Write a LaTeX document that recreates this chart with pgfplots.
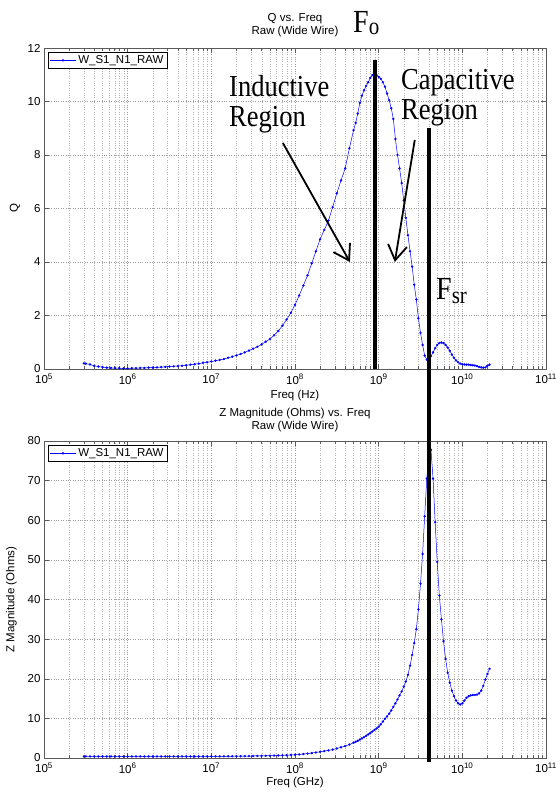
\documentclass[border=0pt]{standalone}
\usepackage{pgfplots}
\usepackage{pgfplotstable}
\pgfplotsset{compat=1.18}
\usepackage{fontspec}
\setmainfont{Liberation Sans}
\newfontfamily\timesfont{Liberation Serif}
\usetikzlibrary{arrows.meta}
\definecolor{mblue}{RGB}{0,0,255}
\definecolor{axgray}{RGB}{90,90,90}

\pgfplotstableread{
f Q Z
3.000e5 0.21 0.40
3.162e5 0.20 0.40
3.548e5 0.17 0.40
3.981e5 0.12 0.40
4.467e5 0.09 0.40
5.012e5 0.07 0.40
5.623e5 0.05 0.40
6.310e5 0.04 0.40
7.079e5 0.03 0.40
7.943e5 0.03 0.40
8.913e5 0.02 0.40
1.000e6 0.02 0.40
1.122e6 0.03 0.40
1.259e6 0.03 0.40
1.413e6 0.04 0.40
1.585e6 0.04 0.40
1.778e6 0.05 0.40
1.995e6 0.05 0.40
2.239e6 0.06 0.40
2.512e6 0.07 0.40
2.818e6 0.08 0.40
3.162e6 0.09 0.40
3.548e6 0.10 0.40
3.981e6 0.11 0.40
4.467e6 0.12 0.40
5.012e6 0.14 0.40
5.623e6 0.16 0.40
6.310e6 0.18 0.40
7.079e6 0.20 0.40
7.943e6 0.23 0.40
8.913e6 0.25 0.41
1.000e7 0.28 0.41
1.122e7 0.31 0.42
1.259e7 0.34 0.42
1.413e7 0.37 0.43
1.585e7 0.42 0.43
1.778e7 0.46 0.44
1.995e7 0.51 0.45
2.239e7 0.56 0.46
2.512e7 0.62 0.47
2.818e7 0.69 0.48
3.162e7 0.76 0.50
3.548e7 0.83 0.52
3.981e7 0.92 0.54
4.467e7 1.02 0.56
5.012e7 1.12 0.58
5.623e7 1.26 0.61
6.310e7 1.42 0.64
7.079e7 1.62 0.68
7.943e7 1.85 0.72
8.913e7 2.10 0.77
1.000e8 2.40 0.82
1.122e8 2.75 0.90
1.259e8 3.12 1.00
1.413e8 3.50 1.12
1.585e8 3.95 1.25
1.778e8 4.40 1.40
1.995e8 4.85 1.56
2.239e8 5.20 1.74
2.512e8 5.55 1.92
2.818e8 6.05 2.12
3.162e8 6.57 2.40
3.548e8 7.05 2.70
3.981e8 7.50 3.00
4.467e8 8.25 3.40
5.012e8 8.93 3.85
5.309e8 9.20 4.10
5.623e8 9.55 4.35
5.957e8 9.95 4.65
6.310e8 10.22 4.95
6.683e8 10.42 5.25
7.079e8 10.58 5.60
7.499e8 10.72 5.95
7.943e8 10.88 6.30
8.414e8 10.99 6.70
8.913e8 11.05 7.10
9.441e8 10.98 7.45
1.000e9 10.92 7.90
1.059e9 10.85 8.50
1.122e9 10.72 9.20
1.189e9 10.55 9.90
1.259e9 10.30 10.50
1.334e9 10.05 11.20
1.413e9 9.75 12.00
1.496e9 9.35 12.90
1.585e9 8.60 13.80
1.679e9 8.00 14.80
1.778e9 7.50 15.80
1.884e9 6.95 16.80
1.995e9 6.30 18.00
2.113e9 5.65 19.30
2.239e9 5.00 21.00
2.371e9 4.40 23.30
2.512e9 3.83 26.00
2.661e9 3.15 29.00
2.818e9 2.60 32.50
2.985e9 1.90 37.50
3.162e9 1.35 44.00
3.350e9 0.90 51.50
3.548e9 0.50 61.00
3.758e9 0.35 70.50
3.981e9 0.38 76.50
4.217e9 0.48 77.80
4.467e9 0.62 70.50
4.732e9 0.78 59.50
5.012e9 0.90 49.50
5.309e9 0.97 41.00
5.623e9 0.99 35.00
5.957e9 0.97 29.50
6.310e9 0.90 25.00
6.683e9 0.80 21.50
7.079e9 0.68 19.00
7.499e9 0.54 17.00
7.943e9 0.42 15.60
8.414e9 0.32 14.50
8.913e9 0.25 13.80
9.441e9 0.20 13.50
1.000e10 0.18 13.80
1.059e10 0.17 14.50
1.122e10 0.16 15.20
1.189e10 0.16 15.60
1.259e10 0.15 15.80
1.334e10 0.14 15.90
1.413e10 0.13 15.90
1.496e10 0.11 16.00
1.585e10 0.08 16.30
1.679e10 0.06 17.00
1.778e10 0.05 18.20
1.884e10 0.06 19.80
1.995e10 0.12 21.20
2.113e10 0.16 22.50
}\datatable

\begin{document}
\begin{tikzpicture}
\useasboundingbox (0pt,0pt) rectangle (557pt,793pt);

% ---------- Top axis: Q ----------
\begin{axis}[
  xmode=log, scale only axis, width=502pt, height=321pt,
  at={(44pt,424pt)}, anchor=south west,
  xmin=1e5, xmax=1e11,
  xtick={1e5,1e6,1e7,1e8,1e9,1e10,1e11},
  xticklabels={10\textsuperscript{5},10\textsuperscript{6},10\textsuperscript{7},10\textsuperscript{8},10\textsuperscript{9},10\textsuperscript{10},10\textsuperscript{11}},
  minor xtick={2e5,3e5,4e5,5e5,6e5,7e5,8e5,9e5,2e6,3e6,4e6,5e6,6e6,7e6,8e6,9e6,2e7,3e7,4e7,5e7,6e7,7e7,8e7,9e7,2e8,3e8,4e8,5e8,6e8,7e8,8e8,9e8,2e9,3e9,4e9,5e9,6e9,7e9,8e9,9e9,2e10,3e10,4e10,5e10,6e10,7e10,8e10,9e10},
  xmajorgrids, xminorgrids, ymajorgrids,
  major grid style={dotted, gray!80, line width=0.45pt},
  minor grid style={dotted, gray!60, line width=0.4pt},
  axis line style={axgray, line width=0.5pt},
  tick style={axgray, line width=0.5pt},
  tick align=inside,
  major tick length=5pt, minor tick length=3pt,
  ticklabel style={font=\fontsize{11.5}{13}\selectfont},
  xticklabel style={yshift=-1.5pt},
  yticklabel style={/pgf/number format/assume math mode=true},
  label style={font=\fontsize{11.5}{13}\selectfont},
  title style={font=\fontsize{11.5}{13}\selectfont, align=center, at={(0.5,1)}, anchor=south, yshift=1.5pt},
  legend style={at={(0.008,0.988)}, anchor=north west, draw=black, line width=0.5pt,
    font=\fontsize{11.5}{13}\selectfont, inner sep=1.5pt},
  legend cell align=left,
  legend image code/.code={\draw[mark repeat=2,mark phase=2] plot coordinates {(0pt,0pt) (13pt,0pt) (26pt,0pt)};},
  ymin=0, ymax=12, ytick={0,2,4,6,8,10,12},
  title={Q vs. Freq\\Raw (Wide Wire)},
  xlabel={Freq (Hz)},
  xlabel style={at={(0.5,-0.083)}, anchor=center},
  ylabel={Q},
  ylabel style={at={(-0.058,0.5)}, anchor=center},
]
\addplot[color=mblue, line width=0.5pt, mark=*, mark size=1.1pt, mark options={fill=mblue, draw=mblue, line width=0.2pt}] table[x=f, y=Q] {\datatable};
\addlegendentry{W\_S1\_N1\_RAW}
\coordinate (FoTop) at (axis cs:9.0e8,11.55);
\coordinate (FoBot) at (axis cs:9.0e8,0);
\coordinate (FsrTop) at (axis cs:3.98e9,9.0);
\coordinate (A1s) at (axis cs:7.16e7,8.45);
\coordinate (A1e) at (axis cs:4.53e8,4.0);
\coordinate (A2s) at (axis cs:2.70e9,8.56);
\coordinate (A2e) at (axis cs:1.56e9,4.0);
\end{axis}

% ---------- Bottom axis: Z ----------
\begin{axis}[
  xmode=log, scale only axis, width=502pt, height=317pt,
  at={(44pt,35pt)}, anchor=south west,
  xmin=1e5, xmax=1e11,
  xtick={1e5,1e6,1e7,1e8,1e9,1e10,1e11},
  xticklabels={10\textsuperscript{5},10\textsuperscript{6},10\textsuperscript{7},10\textsuperscript{8},10\textsuperscript{9},10\textsuperscript{10},10\textsuperscript{11}},
  minor xtick={2e5,3e5,4e5,5e5,6e5,7e5,8e5,9e5,2e6,3e6,4e6,5e6,6e6,7e6,8e6,9e6,2e7,3e7,4e7,5e7,6e7,7e7,8e7,9e7,2e8,3e8,4e8,5e8,6e8,7e8,8e8,9e8,2e9,3e9,4e9,5e9,6e9,7e9,8e9,9e9,2e10,3e10,4e10,5e10,6e10,7e10,8e10,9e10},
  xmajorgrids, xminorgrids, ymajorgrids,
  major grid style={dotted, gray!80, line width=0.45pt},
  minor grid style={dotted, gray!60, line width=0.4pt},
  axis line style={axgray, line width=0.5pt},
  tick style={axgray, line width=0.5pt},
  tick align=inside,
  major tick length=5pt, minor tick length=3pt,
  ticklabel style={font=\fontsize{11.5}{13}\selectfont},
  xticklabel style={yshift=-1.5pt},
  yticklabel style={/pgf/number format/assume math mode=true},
  label style={font=\fontsize{11.5}{13}\selectfont},
  title style={font=\fontsize{11.5}{13}\selectfont, align=center, at={(0.5,1)}, anchor=south, yshift=0pt},
  legend style={at={(0.008,0.988)}, anchor=north west, draw=black, line width=0.5pt,
    font=\fontsize{11.5}{13}\selectfont, inner sep=1.5pt},
  legend cell align=left,
  legend image code/.code={\draw[mark repeat=2,mark phase=2] plot coordinates {(0pt,0pt) (13pt,0pt) (26pt,0pt)};},
  ymin=0, ymax=80, ytick={0,10,20,30,40,50,60,70,80},
  title={Z Magnitude (Ohms) vs. Freq\\Raw (Wide Wire)},
  xlabel={Freq (GHz)},
  xlabel style={at={(0.5,-0.077)}, anchor=center},
  ylabel={Z Magnitude (Ohms)},
  ylabel style={at={(-0.065,0.5)}, anchor=center},
]
\addplot[color=mblue, line width=0.5pt, mark=*, mark size=1.1pt, mark options={fill=mblue, draw=mblue, line width=0.2pt}] table[x=f, y=Z] {\datatable};
\addlegendentry{W\_S1\_N1\_RAW}
\coordinate (FsrBot) at (axis cs:3.98e9,-1.0);
\end{axis}

% ---------- Annotations ----------
\draw[black, line width=4pt] (FoTop) -- (FoBot);
\draw[black, line width=4pt] (FsrTop) -- (FsrBot);
\draw[black, line width=1.8pt, -{Straight Barb[length=15pt,width=19pt]}] (A1s) -- (A1e);
\draw[black, line width=1.8pt, -{Straight Barb[length=15pt,width=19pt]}] (A2s) -- (A2e);

\node[inner sep=0pt, yscale=1.15, anchor=base west, font=\timesfont\fontsize{26.5}{26.5}\selectfont] at (229pt,696pt) {Inductive};
\node[inner sep=0pt, yscale=1.15, anchor=base west, font=\timesfont\fontsize{26.5}{26.5}\selectfont] at (229pt,666.5pt) {Region};
\node[inner sep=0pt, yscale=1.15, anchor=base west, font=\timesfont\fontsize{26.5}{26.5}\selectfont] at (401pt,703pt) {Capacitive};
\node[inner sep=0pt, yscale=1.15, anchor=base west, font=\timesfont\fontsize{26.5}{26.5}\selectfont] at (401pt,673pt) {Region};
\node[inner sep=0pt, yscale=1.15, anchor=base west, font=\timesfont] at (353pt,760pt) {\fontsize{28}{28}\selectfont F\raisebox{-1.5pt}{\fontsize{21}{21}\selectfont o}};
\node[inner sep=0pt, yscale=1.15, anchor=base west, font=\timesfont] at (436pt,493pt) {\fontsize{28}{28}\selectfont F\raisebox{-3pt}{\fontsize{21}{21}\selectfont sr}};
\end{tikzpicture}
\end{document}
